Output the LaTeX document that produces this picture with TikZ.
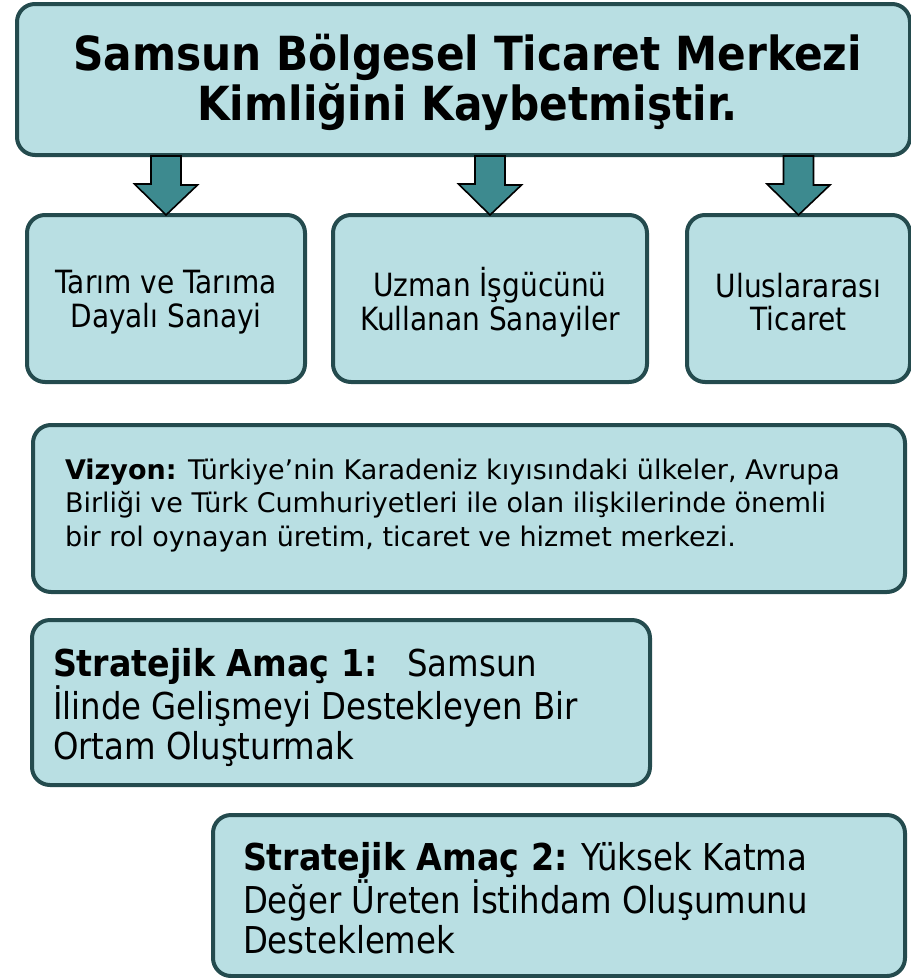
\documentclass[tikz,border=0pt]{standalone}
\usepackage{fontspec}
\setmainfont{DejaVu Sans}[FakeStretch=0.875, BoldFeatures={FakeStretch=0.9}]
\newfontfamily\vizfamily{DejaVu Sans}
\definecolor{boxfill}{HTML}{B9DFE3}
\definecolor{boxline}{HTML}{244B4E}
\definecolor{arrowfill}{HTML}{3D8A8F}
\tikzset{
  card/.style={draw=boxline, fill=boxfill, line width=4pt, rounded corners=18pt, rectangle, inner sep=0pt, outer sep=0pt},
  label/.style={inner sep=0pt, outer sep=0pt},
  bigarrow/.style={draw=black, fill=arrowfill, line width=1.6pt, line join=miter},
  titlefont/.style={label, align=center, font=\fontsize{47}{50}\selectfont\bfseries},
  smallfont/.style={label, align=center, font=\fontsize{32}{33.5}\selectfont},
  vizfont/.style={label, align=left, anchor=west, font=\vizfamily\fontsize{27}{33.5}\selectfont},
  stratfont/.style={label, align=left, anchor=west, font=\fontsize{37}{40}\selectfont}
}
\begin{document}
\begin{tikzpicture}[x=1pt, y=-1pt]
\useasboundingbox (0,0) rectangle (911,978);

\node[card, minimum width=893pt, minimum height=151pt] (top) at (463.5,79.5) {};
\node[card, minimum width=278pt, minimum height=167pt] (b1) at (166,298.5) {};
\node[card, minimum width=314pt, minimum height=167pt] (b2) at (490,298.5) {};
\node[card, minimum width=223pt, minimum height=167pt] (b3) at (798.5,298.5) {};
\node[card, minimum width=872pt, minimum height=167pt] (viz) at (469,508.5) {};
\node[card, minimum width=618pt, minimum height=165pt] (s1) at (341,702.5) {};
\node[card, minimum width=692pt, minimum height=161pt] (s2) at (559,895.5) {};

\node[titlefont] (toptext) at ([xshift=4pt, yshift=-3pt]top.center)
  {Samsun Bölgesel Ticaret Merkezi\\Kimliğini Kaybetmiştir.};
\node[smallfont] (b1text) at ([yshift=-3.5pt]b1.center) {Tarım ve Tarıma\\Dayalı Sanayi};
\node[smallfont] (b2text) at ([yshift=-3.5pt]b2.center) {Uzman İşgücünü\\Kullanan Sanayiler};
\node[smallfont] (b3text) at ([yshift=-3.5pt]b3.center) {Uluslararası\\Ticaret};

\node[vizfont] (viztext) at ([xshift=32pt, yshift=3pt]viz.west)
  {\textbf{Vizyon:} Türkiye’nin Karadeniz kıyısındaki ülkeler, Avrupa\\Birliği ve Türk Cumhuriyetleri ile olan ilişkilerinde önemli\\bir rol oynayan üretim, ticaret ve hizmet merkezi.};
\node[stratfont] (s1text) at ([xshift=21pt, yshift=-5pt]s1.west)
  {\textbf{Stratejik Amaç 1:}\hspace{0.8em}Samsun\\İlinde Gelişmeyi Destekleyen Bir\\Ortam Oluşturmak};
\node[stratfont] (s2text) at ([xshift=30pt, yshift=-3pt]s2.west)
  {\textbf{Stratejik Amaç 2:} Yüksek Katma\\Değer Üreten İstihdam Oluşumunu\\Desteklemek};

\foreach \b in {b1,b2,b3}{
  \draw[bigarrow] (top.south -| \b.north) ++(-15,1)
    -- ++(30,0) -- ++(0,29) -- ++(16.5,0)
    -- (\b.north) -- ++(-31.5,-31) -- ++(16.5,0) -- cycle;
}
\end{tikzpicture}
\end{document}
